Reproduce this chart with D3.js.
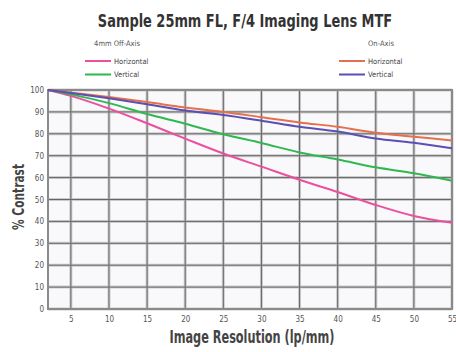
<!DOCTYPE html>
<html>
<head>
<meta charset="utf-8">
<script src="https://cdn.jsdelivr.net/npm/d3@7"></script>
<style>
  body { margin: 0; background: #fff; }
  svg text { font-family: "Liberation Sans Narrow", "DejaVu Sans Condensed", sans-serif; }
</style>
</head>
<body>
<svg id="chart" width="456" height="352"></svg>
<script>
// MTF curves
const resolution = [2, 5, 10, 15, 20, 25, 30, 35, 40, 45, 50, 55];
const onAxisH  = [100, 98.8, 96.8, 94.5, 92.0, 90.0, 87.6, 85.2, 83.2, 80.5, 78.7, 76.9];
const onAxisV  = [100, 98.6, 96.2, 93.5, 90.6, 88.6, 86.0, 83.2, 81.0, 77.9, 75.9, 73.4];
const offAxisH = [100, 97.3, 91.5, 84.8, 77.8, 71.0, 65.0, 59.0, 53.4, 47.5, 42.5, 39.4];
const offAxisV = [100, 98.0, 94.0, 89.0, 84.6, 79.8, 75.8, 71.5, 68.3, 64.7, 62.0, 58.6];

const xTicks = [5, 10, 15, 20, 25, 30, 35, 40, 45, 50, 55];
const yTicks = [0, 10, 20, 30, 40, 50, 60, 70, 80, 90, 100];

const series = [
  {name: "offH", values: offAxisH, color: "#ec4f9f"},
  {name: "offV", values: offAxisV, color: "#2fb850"},
  {name: "onH",  values: onAxisH,  color: "#e5704b"},
  {name: "onV",  values: onAxisV,  color: "#5a4fb2"}
];

const margin = {left: 48, right: 4, top: 90, bottom: 43};
const svg = d3.select("#chart");
const W = +svg.attr("width"), H = +svg.attr("height");

const x = d3.scaleLinear().domain([2, 55]).range([margin.left, W - margin.right]);
const y = d3.scaleLinear().domain([0, 100]).range([H - margin.bottom, margin.top]);

// plot background
svg.append("rect")
  .attr("x", x(2)).attr("y", y(100))
  .attr("width", x(55) - x(2)).attr("height", y(0) - y(100))
  .attr("fill", "#f9f8fb");

// grid: a soft wide line under a thin dark one
const grid = svg.append("g");
[["#cbcbcb", 3], ["#666", 1]].forEach(([c, w]) => {
  grid.append("g").selectAll("line").data(xTicks).join("line")
    .attr("x1", d => x(d)).attr("x2", d => x(d))
    .attr("y1", y(0)).attr("y2", y(100))
    .attr("stroke", c).attr("stroke-width", w);
  grid.append("g").selectAll("line").data(yTicks).join("line")
    .attr("x1", x(2)).attr("x2", x(55))
    .attr("y1", d => y(d)).attr("y2", d => y(d))
    .attr("stroke", c).attr("stroke-width", w);
});

svg.append("rect")
  .attr("x", x(2)).attr("y", y(100))
  .attr("width", x(55) - x(2)).attr("height", y(0) - y(100))
  .attr("fill", "none").attr("stroke", "#8a8a8a").attr("stroke-width", 2);

// axes (labels only)
const xAxis = svg.append("g")
  .attr("transform", `translate(0,${y(0)})`)
  .call(d3.axisBottom(x).tickValues(xTicks).tickSize(0).tickPadding(7));
const yAxis = svg.append("g")
  .attr("transform", `translate(${x(2)},0)`)
  .call(d3.axisLeft(y).tickValues(yTicks).tickSize(0).tickPadding(4));
[xAxis, yAxis].forEach(a => {
  a.select(".domain").remove();
  a.selectAll("text").attr("font-size", 8).attr("fill", "#555")
    .style("font-family", "'Liberation Sans Narrow', 'DejaVu Sans Condensed', sans-serif");
});

// curves
const line = d3.line()
  .x((d, i) => x(resolution[i]))
  .y(d => y(d))
  .curve(d3.curveMonotoneX);

svg.append("g").selectAll("path").data(series).join("path")
  .attr("d", s => line(s.values))
  .attr("fill", "none")
  .attr("stroke", s => s.color)
  .attr("stroke-width", 2);

// titles (squeezed horizontally to look condensed)
svg.append("text")
  .attr("transform", "translate(245,27) scale(0.8,1)")
  .attr("text-anchor", "middle")
  .attr("font-size", 18).attr("font-weight", "bold").attr("fill", "#333")
  .text("Sample 25mm FL, F/4 Imaging Lens MTF");

svg.append("text")
  .attr("x", 252).attr("y", 343)
  .attr("text-anchor", "middle")
  .attr("font-size", 17).attr("font-weight", "bold").attr("fill", "#444")
  .attr("textLength", 165).attr("lengthAdjust", "spacingAndGlyphs")
  .text("Image Resolution (lp/mm)");

svg.append("text")
  .attr("transform", "translate(24,197) rotate(-90)")
  .attr("text-anchor", "middle")
  .attr("font-size", 16).attr("font-weight", "bold").attr("fill", "#444")
  .attr("textLength", 66).attr("lengthAdjust", "spacingAndGlyphs")
  .text("% Contrast");

// legend
const legendGroups = [
  {title: "4mm Off-Axis", cx: 117, lx: 85, items: [series[0], series[1]]},
  {title: "On-Axis", cx: 381, lx: 339, items: [series[2], series[3]]}
];
const labels = ["Horizontal", "Vertical"];
legendGroups.forEach(g => {
  const lg = svg.append("g");
  lg.append("text")
    .attr("x", g.cx).attr("y", 46)
    .attr("text-anchor", "middle")
    .attr("font-size", 7.5).attr("fill", "#555")
    .text(g.title);
  g.items.forEach((s, i) => {
    const yy = 61 + i * 13.5;
    lg.append("line")
      .attr("x1", g.lx).attr("x2", g.lx + 26)
      .attr("y1", yy).attr("y2", yy)
      .attr("stroke", s.color).attr("stroke-width", 2);
    lg.append("text")
      .attr("x", g.lx + 29).attr("y", yy + 2.5)
      .attr("font-size", 7.5).attr("fill", "#444")
      .text(labels[i]);
  });
});
</script>
</body>
</html>
